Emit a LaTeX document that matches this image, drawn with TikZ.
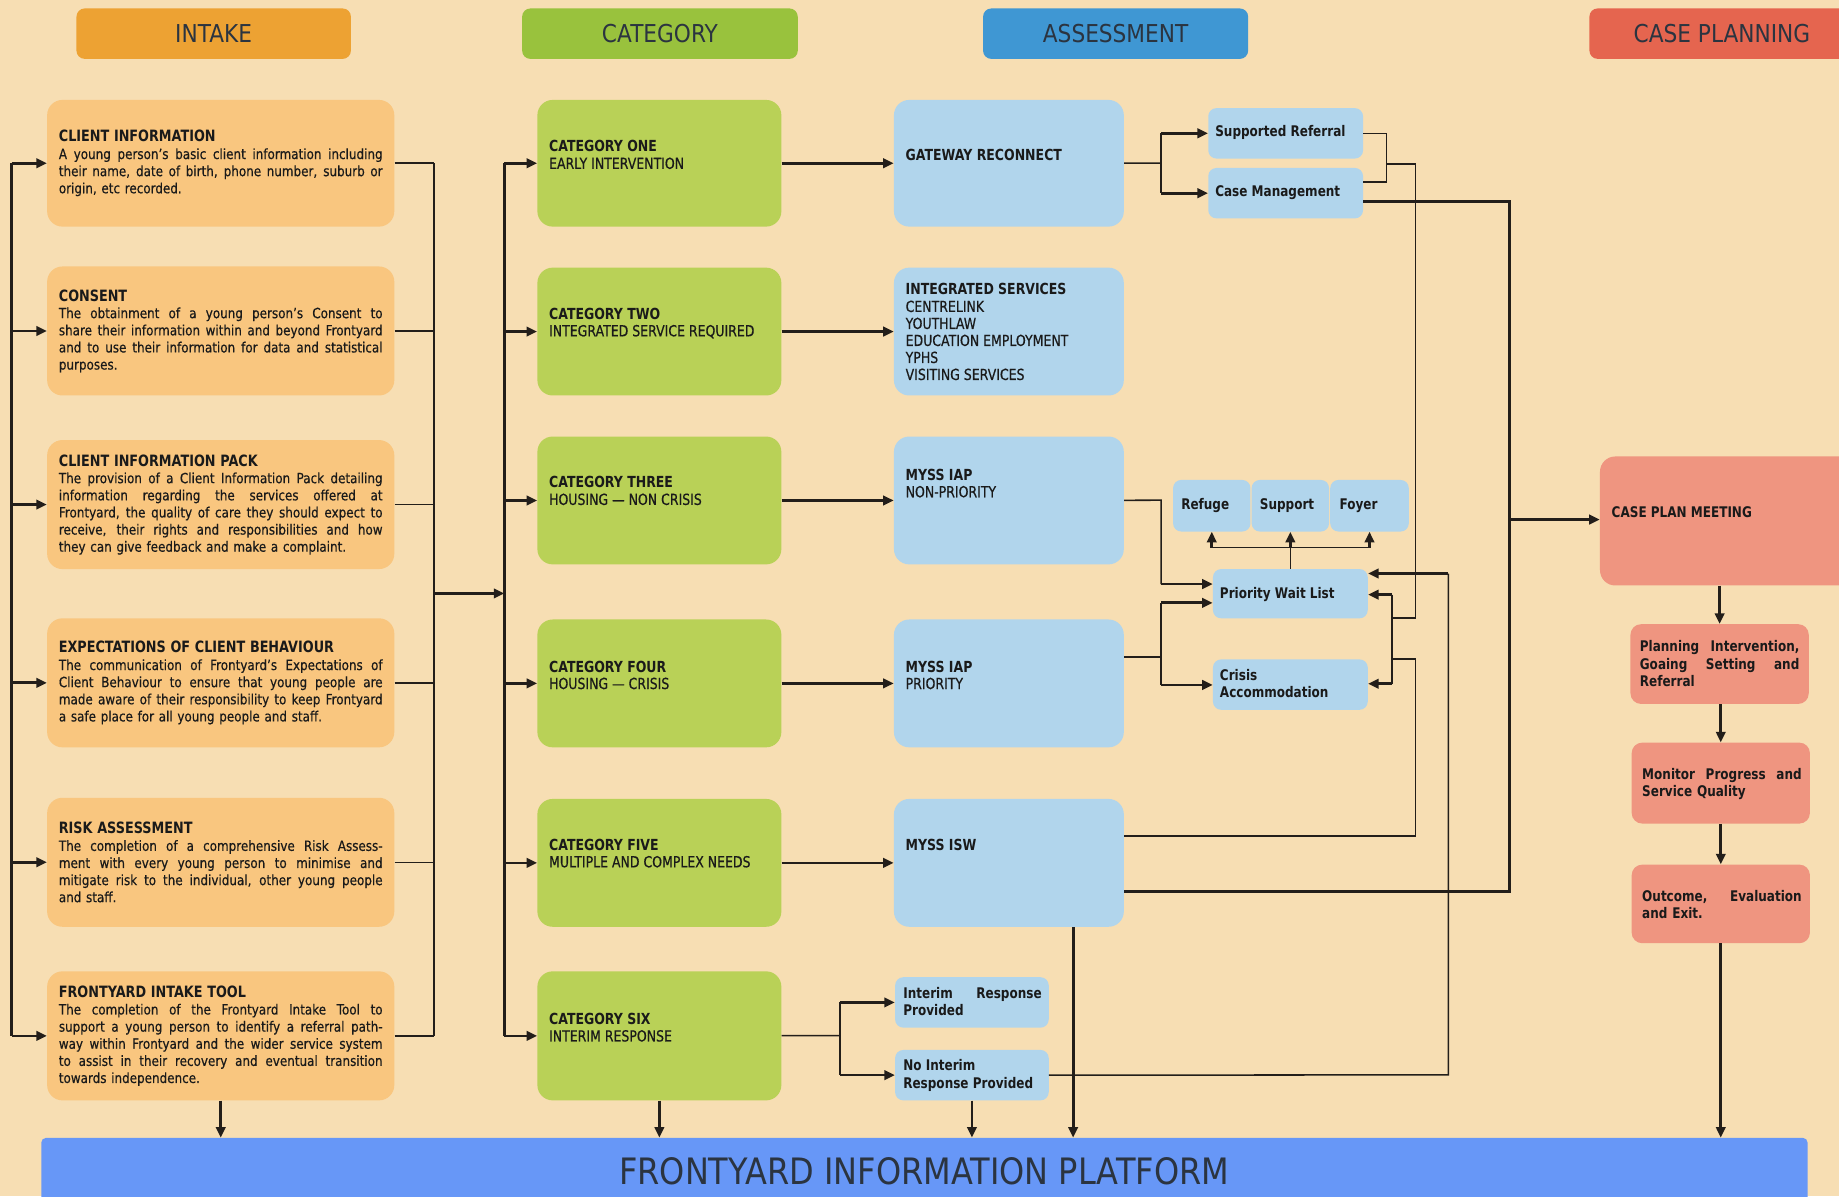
\documentclass[tikz,border=0pt]{standalone}
\usepackage{fontspec}
\setmainfont{DejaVu Sans}[FakeStretch=0.82,UprightFeatures={FakeBold=0.5}]
\newfontfamily\bodyfont{DejaVu Sans}[Ligatures=TeX,FakeStretch=0.85,UprightFeatures={FakeBold=0.5}]
\newfontfamily\hdfont{DejaVu Sans}[FakeStretch=0.88]
\usetikzlibrary{arrows.meta,calc}
\definecolor{bg}{HTML}{F7DEB3}
\definecolor{intk}{HTML}{F9C67F}
\definecolor{catg}{HTML}{B9D157}
\definecolor{asst}{HTML}{B1D5EC}
\definecolor{casep}{HTML}{EF9580}
\definecolor{hI}{HTML}{EDA233}
\definecolor{hC}{HTML}{99C23D}
\definecolor{hA}{HTML}{3F97D3}
\definecolor{hP}{HTML}{E5654F}
\definecolor{plat}{HTML}{6797F7}
\definecolor{txt}{HTML}{1A1A1A}
\definecolor{hdtxt}{HTML}{2B3440}
\definecolor{lc}{HTML}{231E1A}
\newcommand\jl[1]{{\spaceskip=0pt\xspaceskip=0pt\makebox[\hsize][s]{#1}}}
\newcommand\fsI{\bodyfont\fontsize{12}{14.6}\selectfont}
\newcommand\fsT{\fontsize{13.3}{14.6}\selectfont}
\newcommand\fsC{\fontsize{13}{14.5}\selectfont}
\newcommand\fsS{\fontsize{12.5}{14.8}\selectfont}
\tikzset{
  every node/.style={inner sep=0pt, text=txt},
  bx/.style={anchor=north west, rounded corners=13pt},
  hdr/.style={anchor=north west, rounded corners=7pt, minimum height=43pt,
    font=\hdfont\fontsize{21}{24}\selectfont, text=hdtxt},
  ibox/.style={bx, fill=intk, minimum width=296pt, minimum height=108pt,
    text width=276pt, inner xsep=10pt, align=left, font=\fsI},
  cbox/.style={bx, fill=catg, minimum width=208pt, minimum height=109pt},
  abox/.style={bx, fill=asst, minimum width=196pt, minimum height=109pt},
  sbox/.style={anchor=north west, rounded corners=7pt, fill=asst},
  pbox/.style={anchor=north west, rounded corners=9pt, fill=casep, minimum width=152pt},
  tx/.style={anchor=west, align=left},
  ln/.style={draw=lc, line width=1.3pt},
  tk/.style={draw=lc, line width=2.3pt},
  ar/.style={-{Triangle[length=9pt,width=8pt]}},
}
\begin{document}
\begin{tikzpicture}[x=1pt,y=-1pt]
\fill[bg] (0,0) rectangle (1568,1020);
\useasboundingbox (0,0) rectangle (1568,1020);
\clip (0,0) rectangle (1568,1020);

% headers
\node[hdr, fill=hI, minimum width=234pt] (hI) at (65,7) {INTAKE};
\node[hdr, fill=hC, minimum width=235pt] (hC) at (445,7) {CATEGORY};
\node[hdr, fill=hA, minimum width=226pt] (hA) at (838,7) {ASSESSMENT};
\node[hdr, fill=hP, minimum width=226pt] (hP) at (1355,7) {CASE PLANNING};

% intake boxes
\node[ibox] (i1) at (40,85) {{\rmfamily\fsT\bfseries CLIENT INFORMATION}\\
\jl{A young person's basic client information including}\\
\jl{their name, date of birth, phone number, suburb or}\\
origin, etc recorded.};
\node[ibox, minimum height=110pt] (i2) at (40,227) {{\rmfamily\fsT\bfseries CONSENT}\\
\jl{The obtainment of a young person's Consent to}\\
\jl{share their information within and beyond Frontyard}\\
\jl{and to use their information for data and statistical}\\
purposes.};
\node[ibox, minimum height=110pt] (i3) at (40,375) {{\rmfamily\fsT\bfseries CLIENT INFORMATION PACK}\\
\jl{The provision of a Client Information Pack detailing}\\
\jl{information regarding the services offered at}\\
\jl{Frontyard, the quality of care they should expect to}\\
\jl{receive, their rights and responsibilities and how}\\
they can give feedback and make a complaint.};
\node[ibox, minimum height=110pt] (i4) at (40,527) {{\rmfamily\fsT\bfseries EXPECTATIONS OF CLIENT BEHAVIOUR}\\
\jl{The communication of Frontyard's Expectations of}\\
\jl{Client Behaviour to ensure that young people are}\\
\jl{made aware of their responsibility to keep Frontyard}\\
a safe place for all young people and staff.};
\node[ibox, minimum height=110pt] (i5) at (40,680) {{\rmfamily\fsT\bfseries RISK ASSESSMENT}\\
\jl{The completion of a comprehensive Risk Assess-}\\
\jl{ment with every young person to minimise and}\\
\jl{mitigate risk to the individual, other young people}\\
and staff.};
\node[ibox, minimum height=110pt] (i6) at (40,828) {{\rmfamily\fsT\bfseries FRONTYARD INTAKE TOOL}\\
\jl{The completion of the Frontyard Intake Tool to}\\
\jl{support a young person to identify a referral path-}\\
\jl{way within Frontyard and the wider service system}\\
\jl{to assist in their recovery and eventual transition}\\
towards independence.};

% category boxes
\node[cbox, minimum height=108pt] (c1) at (458,85) {};
\node[cbox] (c2) at (458,228) {};
\node[cbox] (c3) at (458,372) {};
\node[cbox] (c4) at (458,528) {};
\node[cbox] (c5) at (458,681) {};
\node[cbox, minimum height=110pt] (c6) at (458,828) {};
\node[tx, font=\fsC] (c1t) at (468,132) {\textbf{CATEGORY ONE}\\EARLY INTERVENTION};
\node[tx, font=\fsC] (c2t) at (468,275.5) {\textbf{CATEGORY TWO}\\INTEGRATED SERVICE REQUIRED};
\node[tx, font=\fsC] (c3t) at (468,418.5) {\textbf{CATEGORY THREE}\\HOUSING --- NON CRISIS};
\node[tx, font=\fsC] (c4t) at (468,575.5) {\textbf{CATEGORY FOUR}\\HOUSING --- CRISIS};
\node[tx, font=\fsC] (c5t) at (468,727.5) {\textbf{CATEGORY FIVE}\\MULTIPLE AND COMPLEX NEEDS};
\node[tx, font=\fsC] (c6t) at (468,876) {\textbf{CATEGORY SIX}\\INTERIM RESPONSE};

% assessment boxes
\node[abox, minimum height=108pt] (a1) at (762,85) {};
\node[abox] (a2) at (762,228) {};
\node[abox] (a3) at (762,372) {};
\node[abox] (a4) at (762,528) {};
\node[abox] (a5) at (762,681) {};
\node[tx, font=\fsC] (a1t) at (772,132) {\textbf{GATEWAY RECONNECT}};
\node[tx, font=\fsC] (a2t) at (772,283) {\textbf{INTEGRATED SERVICES}\\CENTRELINK\\YOUTHLAW\\EDUCATION EMPLOYMENT\\YPHS\\VISITING SERVICES};
\node[tx, font=\fsC] (a3t) at (772,412) {\textbf{MYSS IAP}\\NON-PRIORITY};
\node[tx, font=\fsC] (a4t) at (772,575.5) {\textbf{MYSS IAP}\\PRIORITY};
\node[tx, font=\fsC] (a5t) at (772,720) {\textbf{MYSS ISW}};

% small assessment boxes
\node[sbox, minimum width=132pt, minimum height=43pt] (sr) at (1030,92) {};
\node[sbox, minimum width=132pt, minimum height=43pt] (cm) at (1030,143) {};
\node[tx, font=\fsS\bfseries] (srt) at (1036,113) {Supported Referral};
\node[tx, font=\fsS\bfseries] (cmt) at (1036,164) {Case Management};
\node[sbox, minimum width=66pt, minimum height=44pt] (rf) at (1000,409) {};
\node[sbox, minimum width=66pt, minimum height=44pt] (su) at (1067,409) {};
\node[sbox, minimum width=67pt, minimum height=44pt] (fy) at (1134,409) {};
\node[tx, font=\fsS\bfseries] (rft) at (1007,431) {Refuge};
\node[tx, font=\fsS\bfseries] (sut) at (1074,431) {Support};
\node[tx, font=\fsS\bfseries] (fyt) at (1142,431) {Foyer};
\node[sbox, minimum width=132pt, minimum height=42pt] (pwl) at (1034,485) {};
\node[tx, font=\fsS\bfseries] (pwlt) at (1040,507) {Priority Wait List};
\node[sbox, minimum width=132pt, minimum height=43pt] (ca) at (1034,562) {};
\node[tx, font=\fsS\bfseries] (cat) at (1040,583) {Crisis\\Accommodation};
\node[sbox, minimum width=131pt, minimum height=43pt] (ir) at (763,833) {};
\node[tx, font=\fsS\bfseries, text width=118pt] (irt) at (770,854) {\jl{Interim Response}\\Provided};
\node[sbox, minimum width=131pt, minimum height=43pt] (nir) at (763,895) {};
\node[tx, font=\fsS\bfseries] (nirt) at (770,917) {No Interim\\Response Provided};

% case planning
\node[pbox, minimum width=226pt, minimum height=110pt, rounded corners=13pt] (cpm) at (1364,389) {};
\node[tx, font=\fsS\bfseries] (cpmt) at (1374,437) {CASE PLAN MEETING};
\node[pbox, minimum height=68pt] (pl) at (1390,532) {};
\node[tx, font=\fsS\bfseries, text width=136pt] (plt) at (1398,566) {\jl{Planning Intervention,}\\\jl{Goaing Setting and}\\Referral};
\node[pbox, minimum height=69pt] (mo) at (1391,633) {};
\node[tx, font=\fsS\bfseries, text width=136pt] (mot) at (1400,668.5) {\jl{Monitor Progress and}\\Service Quality};
\node[pbox, minimum height=67pt] (oc) at (1391,737) {};
\node[tx, font=\fsS\bfseries, text width=136pt] (oct) at (1400,771) {\jl{Outcome, Evaluation}\\and Exit.};

% platform
\node[anchor=north west, fill=plat, rounded corners=4pt, minimum width=1506pt, minimum height=60pt] (pf) at (35,970) {};
\node[font=\hdfont\fontsize{31}{34}\selectfont, text=hdtxt] (pft) at (788,999) {FRONTYARD INFORMATION PLATFORM};

% ---- connectors ----
\coordinate (LB) at (10,0);
\coordinate (RB) at (370,0);
\coordinate (CB) at (430,0);
\coordinate (mid) at (370,506);
\draw[tk] (LB|-i1) -- (LB|-i6);
\foreach \n in {i1,i2,i3,i4,i5,i6} \draw[tk,ar] (LB|-\n) -- (\n);
\foreach \n in {i1,i2,i3,i4,i5,i6} \draw[ln] (\n) -- (RB|-\n);
\draw[ln] (RB|-i1) -- (RB|-i6);
\draw[tk,ar] (mid) -- (CB|-mid);
\draw[tk] (CB|-c1) -- (CB|-c6);
\foreach \n in {c1,c2,c3,c4,c5,c6} \draw[tk,ar] (CB|-\n) -- (\n);
\draw[tk,ar] (c1) -- (a1);
\draw[tk,ar] (c2) -- (a2);
\draw[tk,ar] (c3) -- (a3);
\draw[tk,ar] (c4) -- (a4);
\draw[tk,ar] (c5) -- (a5);

% category six branch
\coordinate (k6) at (716,883);
\draw[ln] (c6) -- (k6);
\draw[ln] (k6|-ir) -- (k6|-nir);
\draw[tk,ar] (k6|-ir) -- (ir);
\draw[tk,ar] (k6|-nir) -- (nir);

% gateway branch
\coordinate (kg) at (990,139);
\draw[ln] (a1) -- (kg);
\draw[ln] (kg|-sr) -- (kg|-cm);
\draw[tk,ar] (kg|-sr) -- (sr);
\draw[tk,ar] (kg|-cm) -- (cm);

% SR / CM join to priority wait list
\coordinate (jx) at (1182,155);
\coordinate (jm) at (1182,140);
\coordinate (jr) at (1207,140);
\coordinate (jd) at (1207,527);
\coordinate (bx) at (1187,527);
\draw[ln] (sr.east) -| (jx) -- (cm.east|-jx);
\draw[ln] (jm) -- (jr) -- (jd) -- (bx);
\coordinate (rb1) at (1187,507);
\coordinate (rb2) at (1187,583);
\draw[ln] (rb1) -- (rb2);
\draw[tk,ar] (rb1) -- (rb1-|pwl.east);
\draw[tk,ar] (rb2) -- (rb2-|ca.east);

% ISW thin line
\coordinate (iw1) at (1207,713);
\coordinate (iw2) at (1207,562);
\coordinate (iw3) at (1187,562);
\draw[ln] (a5.east|-iw1) -- (iw1) -- (iw2) -- (iw3);

% no interim response -> PWL
\coordinate (ni1) at (1235,916.5);
\coordinate (ni2) at (1235,489);
\draw[ln] (nir) -- (ni1) -- (ni2);
\draw[tk,ar] (ni2) -- (ni2-|pwl.east);

% IAP non-priority
\coordinate (np1) at (990,426.5);
\coordinate (np2) at (990,498);
\draw[ln] (a3) -- (np1) -- (np2);
\draw[tk,ar] (np2) -- (np2-|pwl.west);

% IAP priority
\coordinate (pp1) at (990,560);
\coordinate (pp2) at (990,514);
\coordinate (pp3) at (990,584);
\draw[ln] (a4.east|-pp1) -- (pp1);
\draw[ln] (pp2) -- (pp3);
\draw[tk,ar] (pp2) -- (pp2-|pwl.west);
\draw[tk,ar] (pp3) -- (pp3-|ca.west);

% PWL -> refuge / support / foyer
\coordinate (rs) at (0,467);
\draw[ln] (pwl.north) -- (pwl.north|-rs);
\draw[ln] (rf.south|-rs) -- (fy.south|-rs);
\draw[tk,ar] (rf.south|-rs) -- (rf.south);
\draw[tk,ar] (su.south|-rs) -- (su.south);
\draw[tk,ar] (fy.south|-rs) -- (fy.south);

% case management / ISW -> case plan meeting
\coordinate (cb1) at (1287,172);
\coordinate (cb2) at (1287,760);
\coordinate (cb3) at (1287,443);
\draw[tk] (cm.east|-cb1) -- (cb1) -- (cb2) -- (a5.east|-cb2);
\draw[tk,ar] (cb3) -- (cb3-|cpm.west);

% case planning chain
\draw[tk,ar] (pl.north|-cpm.south) -- (pl.north);
\draw[tk,ar] (mo.north|-pl.south) -- (mo.north);
\draw[tk,ar] (oc.north|-mo.south) -- (oc.north);
\draw[tk,ar] (oc.south) -- (oc.south|-pf.north);

% into the platform
\coordinate (xw) at (915,0);
\draw[tk,ar] (i6.south) -- (i6.south|-pf.north);
\draw[tk,ar] (c6.south) -- (c6.south|-pf.north);
\draw[tk,ar] (nir.south) -- (nir.south|-pf.north);
\draw[tk,ar] (a5.south-|xw) -- (xw|-pf.north);
\end{tikzpicture}
\end{document}
